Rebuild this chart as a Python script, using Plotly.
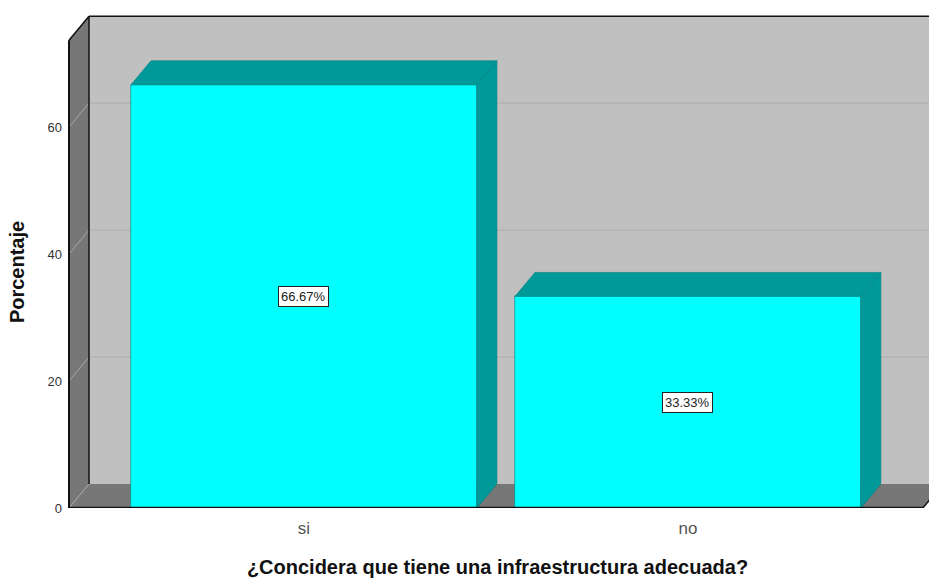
import plotly.graph_objects as go

categories = ["si", "no"]
percentages = [66.67, 33.33]
label_texts = ["66.67%", "33.33%"]
y_ticks = [0, 20, 40, 60]
x_title = "¿Concidera que tiene una infraestructura adecuada?"
y_title = "Porcentaje"

WALL = "#c0c0c0"
SIDE = "#777777"
CYAN = "#00ffff"
TEAL = "#009999"
FONT = "Liberation Sans, Arial, sans-serif"

BAR_W = 0.901
DX = 20 / 384      # depth offset, category units
DY = 24 / 6.35     # depth offset, value units
XL = -0.612        # front-left corner of the box
XR = 1.612         # front-right corner of the box
YTOP = 73.7        # front-top of the box
YMAX = 78.45
XMIN = XL - 3 / 384
XMAX = 1.628

xs = list(range(len(categories)))
fig = go.Figure()

# front faces
fig.add_trace(go.Bar(x=xs, y=percentages, width=BAR_W,
                     marker=dict(color=CYAN, line=dict(color="#008080", width=0.6)),
                     hoverinfo="skip", showlegend=False))

# top and side faces of each bar
for x, v in zip(xs, percentages):
    l, r = x - BAR_W / 2, x + BAR_W / 2
    fig.add_trace(go.Scatter(x=[l, r, r + DX, l + DX, l], y=[v, v, v + DY, v + DY, v],
                             fill="toself", fillcolor=TEAL, mode="lines",
                             line=dict(color="#008080", width=0.6), hoverinfo="skip", showlegend=False))
    fig.add_trace(go.Scatter(x=[r, r + DX, r + DX, r, r], y=[0, DY, v + DY, v, 0],
                             fill="toself", fillcolor=TEAL, mode="lines",
                             line=dict(color="#008080", width=0.6), hoverinfo="skip", showlegend=False))

shapes = []
def poly(px, py, fill):
    path = "M " + " L ".join(f"{a},{b}" for a, b in zip(px, py)) + " Z"
    shapes.append(dict(type="path", path=path, fillcolor=fill, line=dict(width=0), layer="below"))
def seg(x0, y0, x1, y1, color, width, layer="below"):
    shapes.append(dict(type="line", x0=x0, y0=y0, x1=x1, y1=y1, line=dict(color=color, width=width), layer=layer))

poly([XL + DX, XR + DX, XR + DX, XL + DX], [DY, DY, YTOP + DY, YTOP + DY], WALL)
poly([XL, XL + DX, XL + DX, XL], [0, DY, YTOP + DY, YTOP], SIDE)
poly([XL, XR, XR + DX, XL + DX], [0, 0, DY, DY], SIDE)

for t in y_ticks[1:]:
    seg(XL, t, XL + DX, t + DY, "#a8a8a8", 1)
    seg(XL + DX, t + DY, XR + DX, t + DY, "#adadad", 1)

seg(XL, 0, XL + DX, DY, "#a8a8a8", 1)
seg(XL, 0, XL, YTOP, "#111111", 2)
seg(XL + DX, DY, XL + DX, YTOP + DY, "#111111", 1.5)
seg(XL, YTOP, XL + DX, YTOP + DY, "#111111", 1.5)
seg(XL + DX, YTOP + DY, XR + DX, YTOP + DY, "#111111", 1.5)
seg(XL, 0, XR, 0, "#111111", 2.5, layer="above")
seg(XR, 0, XR + DX, DY, "#111111", 1.5, layer="above")

annotations = [
    dict(x=x, y=v / 2, text=t, showarrow=False, bgcolor="white", bordercolor="#222222", borderwidth=1,
         borderpad=2, font=dict(family=FONT, size=13, color="#222222"))
    for x, v, t in zip(xs, percentages, label_texts)
]
annotations.append(dict(x=-0.056, y=0.4730, xref="paper", yref="paper", text=y_title, showarrow=False,
                        textangle=-90, xanchor="center", yanchor="middle",
                        font=dict(family=FONT, size=20, color="#111111", weight="bold")))

fig.update_layout(
    width=929, height=578, autosize=False,
    margin=dict(l=66, r=0, t=10, b=70),
    paper_bgcolor="white", plot_bgcolor="white",
    bargap=0, showlegend=False, shapes=shapes, annotations=annotations,
    xaxis=dict(range=[XMIN, XMAX], tickvals=xs, ticktext=categories, showgrid=False, zeroline=False,
               showline=False, ticks="", ticklabelstandoff=8,
               tickfont=dict(family=FONT, size=17, color="#555555"),
               title=dict(text=x_title, standoff=24,
                          font=dict(family=FONT, size=20, color="#111111", weight="bold"))),
    yaxis=dict(range=[0, YMAX], tickvals=y_ticks, showgrid=False, zeroline=False, showline=False, ticks="",
               ticklabelstandoff=3, tickfont=dict(family=FONT, size=13, color="#333333")),
)

fig.write_html("out.html", config={"displayModeBar": False},
               post_script="document.body.style.margin='0';document.documentElement.style.overflow='hidden';")
